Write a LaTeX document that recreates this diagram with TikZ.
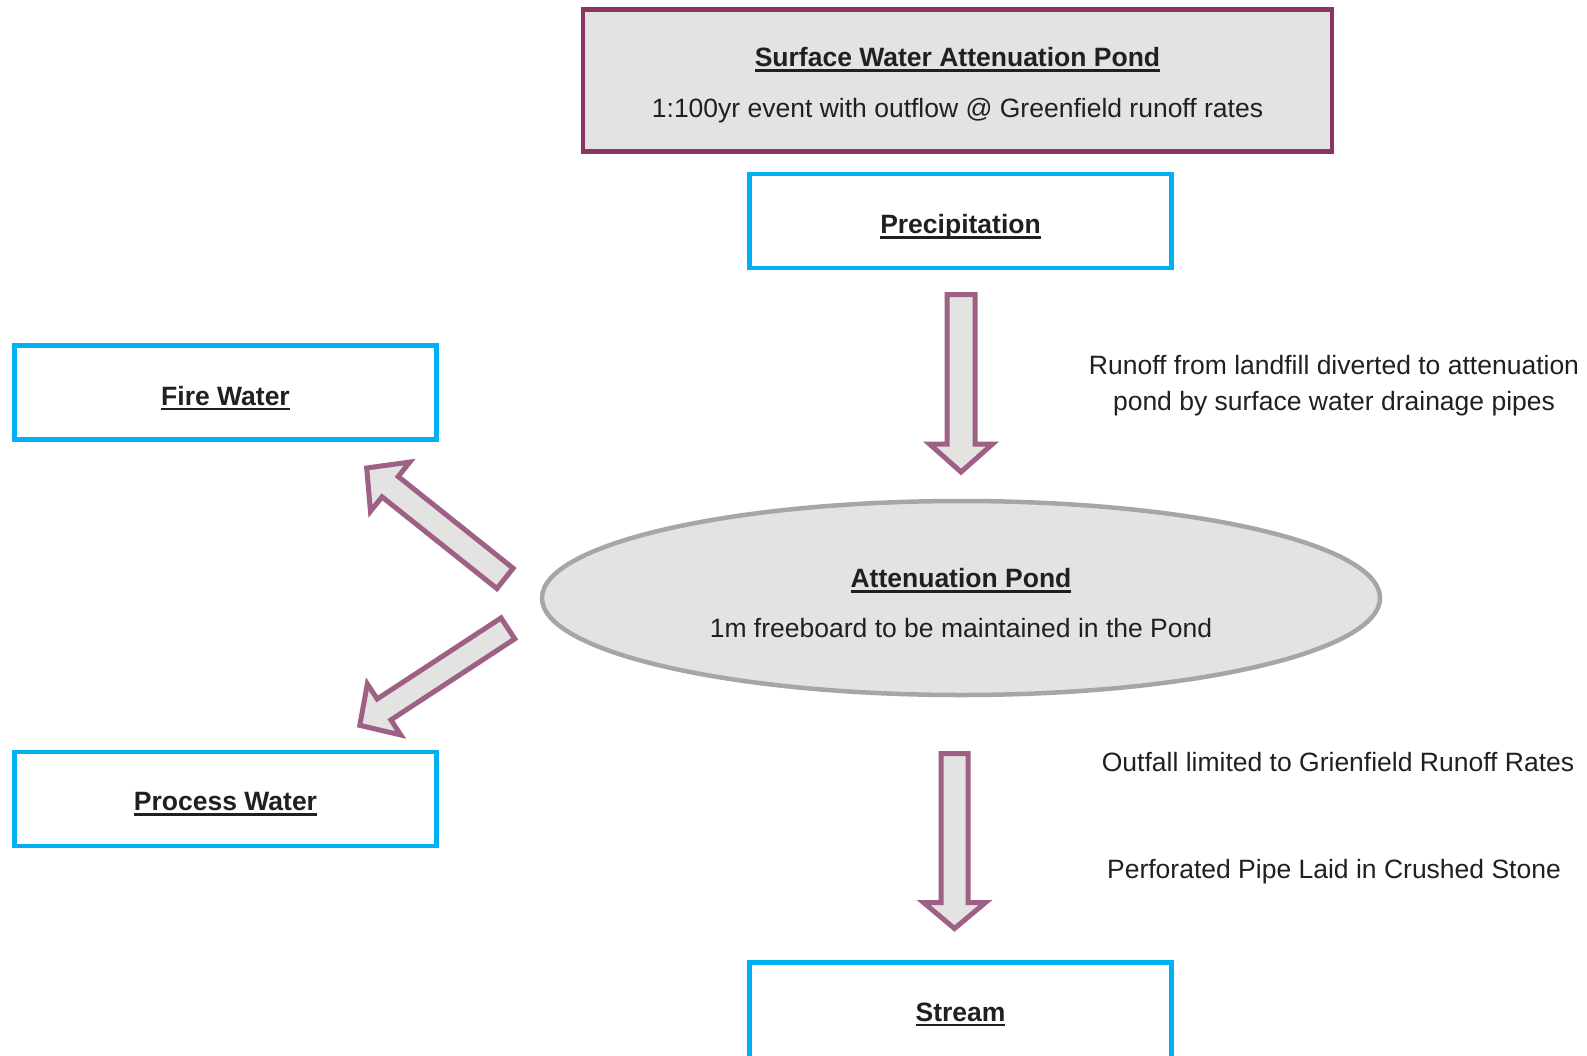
\documentclass[tikz,border=0pt]{standalone}
\usepackage{fontspec}
\setmainfont{Liberation Sans}
\usetikzlibrary{shapes.geometric}
\definecolor{cyanb}{HTML}{00B0F0}
\definecolor{plumb}{HTML}{893663}
\definecolor{arrowb}{HTML}{9E6084}
\definecolor{grayf}{HTML}{E3E3E1}
\definecolor{pondb}{HTML}{A6A6A6}
\definecolor{txtc}{HTML}{231F20}
\newcommand\ulbox[1]{\setbox0=\hbox{#1}\rlap{\copy0}\rule[-5pt]{\wd0}{2.2pt}}
\newcommand\barrow[7]{%
  \begin{scope}[shift={(#1,#2)},rotate=#3]
    \draw[blockarrow] (0,-#5) -- ({#4-#7},-#5) -- ({#4-#7},-#6) -- (#4,0)
      -- ({#4-#7},#6) -- ({#4-#7},#5) -- (0,#5) -- cycle;
  \end{scope}}
\tikzset{
  cbox/.style={draw=cyanb, line width=4.5pt, fill=white, rectangle, inner sep=0pt,
    minimum width=422pt, minimum height=94pt},
  tbox/.style={draw=plumb, line width=4.5pt, fill=grayf, rectangle, inner sep=0pt,
    minimum width=749pt, minimum height=142pt},
  pond/.style={draw=pondb, line width=4.5pt, fill=grayf, ellipse, inner sep=0pt,
    minimum width=838pt, minimum height=194pt},
  blockarrow/.style={draw=arrowb, line width=5pt, fill=grayf, line join=miter},
  txt/.style={text=txtc, inner sep=0pt, anchor=base,
    font=\fontsize{26.5}{32}\selectfont},
}
\begin{document}
\begin{tikzpicture}[x=1pt,y=-1pt]
\useasboundingbox (0,0) rectangle (1587,1055);
\clip (0,0) rectangle (1587,1055);
\fill[white] (0,0) rectangle (1587,1055);
% boxes
\node[tbox] (top) at (957.5,80.5) {};
\node[cbox] (prec) at (960.5,221) {};
\node[cbox] (fire) at (225.5,392.5) {};
\node[cbox] (proc) at (225.5,799) {};
\node[cbox, minimum height=110pt] (stream) at (960.5,1017.5) {};
\node[pond] (pondn) at (961,598) {};
% texts
\node[txt] (toptitle) at (957.5,66.5) {\ulbox{\bfseries Surface Water Attenuation Pond}};
\node[txt] (topsub) at (957.5,117.5) {1:100yr event with outflow @ Greenfield runoff rates};
\node[txt] (prect) at (960.5,233.5) {\ulbox{\bfseries Precipitation}};
\node[txt] (firet) at (225.5,405) {\ulbox{\bfseries Fire Water}};
\node[txt] (proct) at (225.5,810.5) {\ulbox{\bfseries Process Water}};
\node[txt] (streamt) at (960.5,1021) {\ulbox{\bfseries Stream}};
\node[txt] (pondt) at (961,587.5) {\ulbox{\bfseries Attenuation Pond}};
\node[txt] (ponds) at (961,637.5) {1m freeboard to be maintained in the Pond};
\node[txt] (run1) at (1334,374.5) {Runoff from landfill diverted to attenuation};
\node[txt] (run2) at (1334,410.5) {pond by surface water drainage pipes};
\node[txt] (out1) at (1338,771.5) {Outfall limited to Grienfield Runoff Rates};
\node[txt] (out2) at (1334,878.5) {Perforated Pipe Laid in Crushed Stone};
% block arrows
\barrow{961}{294.5}{-90}{177.5}{14}{31.5}{28}
\barrow{954.5}{753.5}{-90}{175}{13.5}{31}{26}
\barrow{505}{578.4}{141.4}{177}{13}{31.5}{30}
\barrow{507.9}{628.4}{213.2}{177}{12.5}{30.5}{29}
\end{tikzpicture}
\end{document}
